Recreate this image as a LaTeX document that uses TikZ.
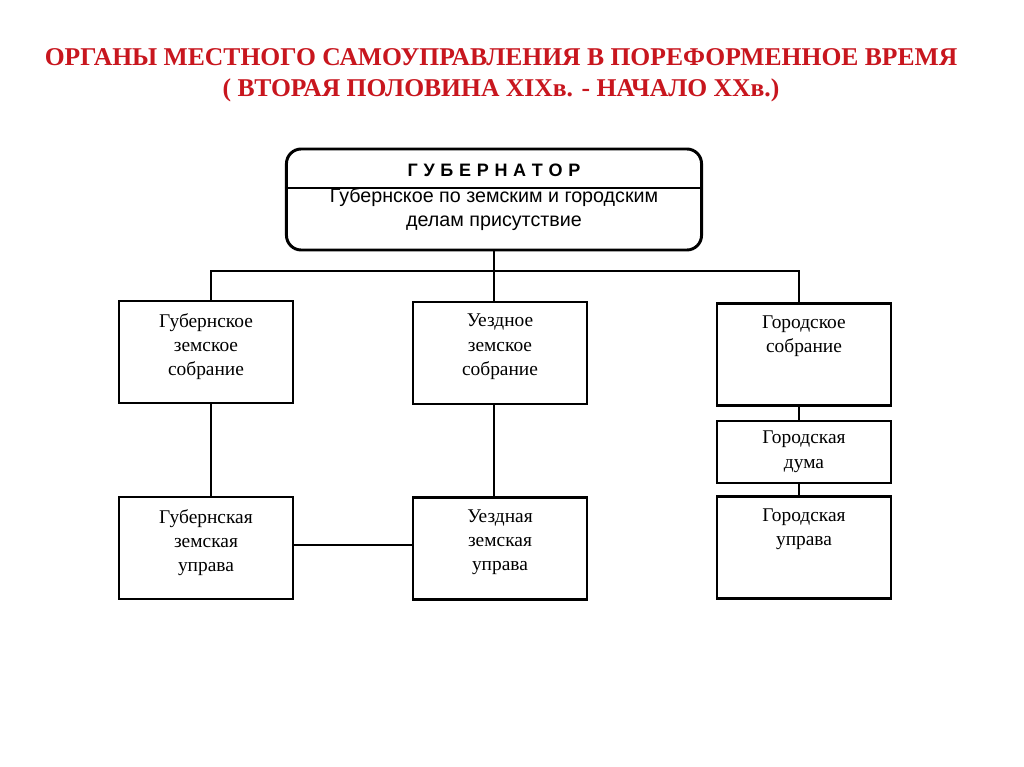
\documentclass[tikz,border=0pt]{standalone}
\usepackage{fontspec}
\setmainfont{Liberation Serif}
\newfontfamily\titlefont{Liberation Serif}
\newfontfamily\headfont{Liberation Sans}
\newfontfamily\headspaced[LetterSpace=4]{Liberation Sans}
\usetikzlibrary{positioning}

\definecolor{titlered}{RGB}{200,22,30}

\tikzset{
  organ/.style={draw, rectangle, line width=2pt, minimum width=4.35cm, minimum height=2.55cm, inner sep=0pt},
  organtext/.style={anchor=north, align=center, inner sep=0pt, font=\fontsize{13.8}{17.2}\selectfont},
  link/.style={line width=1pt}
}

\begin{document}
\begin{tikzpicture}[x=0.025cm, y=-0.025cm]
  \useasboundingbox[fill=white] (0,0) rectangle (1024,767);

  % title
  \node[align=center, text=titlered, font=\titlefont\bfseries\fontsize{18.2}{22}\selectfont] (title) at (501,75)
    {ОРГАНЫ МЕСТНОГО САМОУПРАВЛЕНИЯ В ПОРЕФОРМЕННОЕ ВРЕМЯ\\( ВТОРАЯ ПОЛОВИНА XIXв. - НАЧАЛО XXв.)};

  % governor
  \node[draw, rectangle, rounded corners=10.5pt, line width=2.1pt, minimum width=10.375cm, minimum height=2.525cm] (gub) at (494,199.5) {};
  \draw[line width=1.4pt] ([yshift=0.29cm]gub.west) -- ([yshift=0.29cm]gub.east);
  \node[font=\headspaced\bfseries\fontsize{12.8}{15}\selectfont] (gub-head) at (494,170) {Г У Б Е Р Н А Т О Р};
  \node[align=center, font=\headfont\fontsize{14}{17}\selectfont] (gub-body) at (494,209) {Губернское по земским и городским\\делам присутствие};

  % assemblies
  \node[organ] (gzs) at (206,352) {};
  \node[organ] (uzs) at (500,353) {};
  \node[organ] (gs)  at (804,354.5) {};
  % executive bodies
  \node[organ] (gzu) at (206,548) {};
  \node[organ] (uzu) at (500,548.5) {};
  \node[organ, minimum height=1.55cm] (gd) at (804,452) {};
  \node[organ] (gu)  at (804,547.5) {};

  \node[organtext, below=9.5pt of gzs.north] (gzs-t) {Губернское\\земское\\собрание};
  \node[organtext, below=9.5pt of uzs.north] (uzs-t) {Уездное\\земское\\собрание};
  \node[organtext, below=9.5pt of gs.north]  (gs-t)  {Городское\\собрание};
  \node[organtext, below=9.5pt of gzu.north] (gzu-t) {Губернская\\земская\\управа};
  \node[organtext, below=9.5pt of uzu.north] (uzu-t) {Уездная\\земская\\управа};
  \node[organtext, below=8pt of gd.north]    (gd-t)  {Городская\\дума};
  \node[organtext, below=9.5pt of gu.north]  (gu-t)  {Городская\\управа};

  % connectors
  \coordinate (fork) at (494,271);
  \coordinate (left) at (211,271);
  \coordinate (right) at (799,271);
  \draw[link] (gub.south) -- (fork);
  \draw[link] (left |- gzs.north) -- (left) -- (right) -- (right |- gs.north);
  \draw[link] (fork) -- (fork |- uzs.north);
  \draw[link] (left |- gzs.south) -- (left |- gzu.north);
  \draw[link] (fork |- uzs.south) -- (fork |- uzu.north);
  \draw[link] (right |- gs.south) -- (right |- gd.north);
  \draw[link] (right |- gd.south) -- (right |- gu.north);
  \draw[link] ([yshift=0.075cm]gzu.east) -- ([yshift=0.075cm]gzu.east -| uzu.west);
\end{tikzpicture}
\end{document}
